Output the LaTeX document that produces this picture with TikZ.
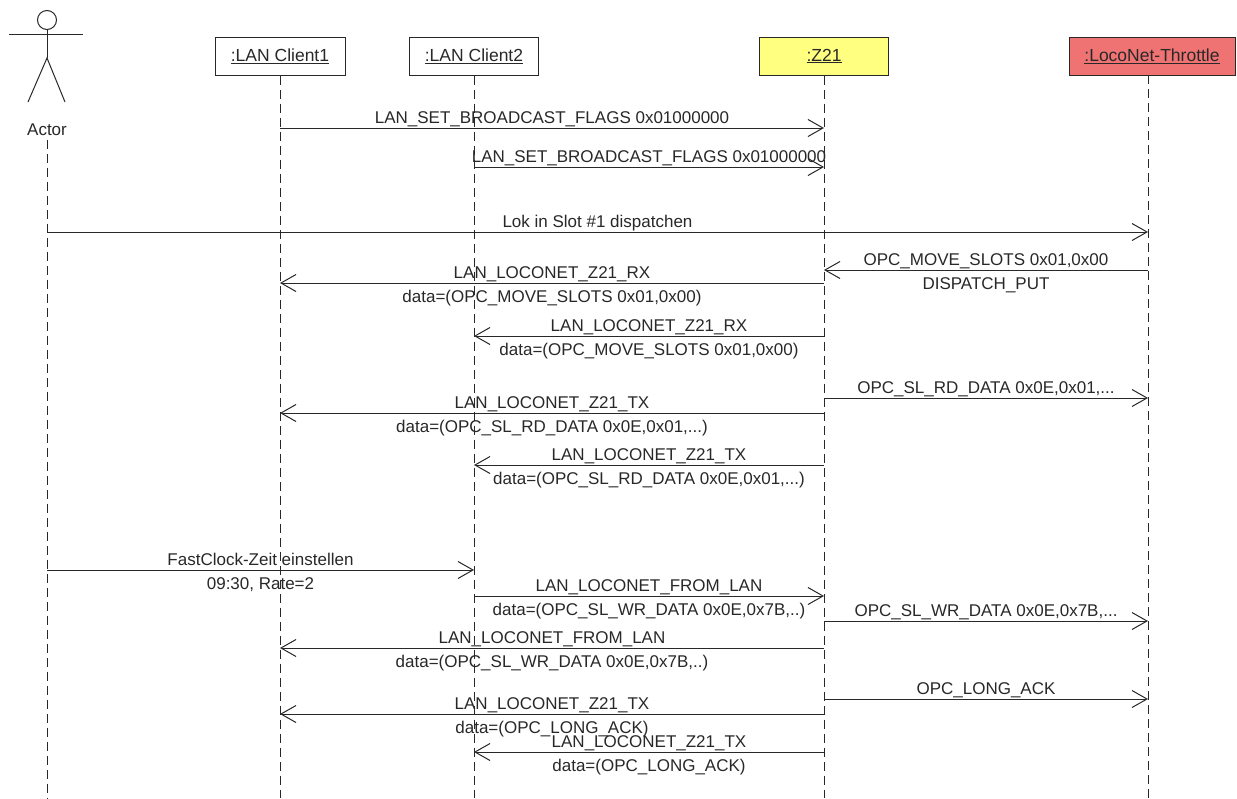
\documentclass[tikz,border=0pt]{standalone}
\usepackage{fontspec}
\setmainfont{Liberation Sans}
\usetikzlibrary{arrows.meta, positioning}
\definecolor{zyellow}{RGB}{255, 255, 128}
\definecolor{throttlered}{RGB}{240, 115, 115}
\definecolor{inkgray}{RGB}{40, 40, 40}

\begin{document}
\begin{tikzpicture}[x=1pt, y=-1pt,
  headbox/.style={draw=inkgray, line width=1pt, minimum height=38pt, font=\fontsize{17.5}{20}\selectfont, text=inkgray},
  life/.style={draw=inkgray, line width=1pt, dash pattern=on 9pt off 5pt},
  msg/.style={draw=inkgray, line width=1pt, -{Straight Barb[length=15pt, width=17pt, line width=1pt]}},
  lbl/.style={font=\fontsize{17}{20}\selectfont, text=inkgray, inner sep=1pt, text height=12pt, text depth=3pt},
  tagup/.style={lbl, above=0pt},
  tagdn/.style={lbl, below=6pt}]
  \useasboundingbox (0,0) rectangle (1237,798);

  % ===== Actor =====
  \draw[inkgray, line width=1pt] (47,20) circle[radius=9.5pt];
  \draw[inkgray, line width=1pt] (9,34) -- (83,34);
  \draw[inkgray, line width=1pt] (47,29.5) -- (47,58);
  \draw[inkgray, line width=1pt] (28,102) -- (47,58) -- (65,102);
  \node[lbl] (actor) at (47,131) {Actor};

  % ===== Heads =====
  \node[headbox, minimum width=130pt] (cl1) at (280,56) {\underline{:LAN Client1}};
  \node[headbox, minimum width=129pt] (cl2) at (474,56) {\underline{:LAN Client2}};
  \node[headbox, fill=zyellow, minimum width=129pt] (z21) at (824,56) {\underline{:Z21}};
  \node[headbox, fill=throttlered, minimum width=166pt] (thr) at (1152,56) {\underline{:LocoNet-Throttle}};
  \coordinate (thrl) at (1148,75);

  % Lifelines
  \draw[life] (actor.south) -- (actor.south |- 0,798);
  \draw[life] (cl1.south) -- (cl1.south |- 0,798);
  \draw[life] (cl2.south) -- (cl2.south |- 0,798);
  \draw[life] (z21.south) -- (z21.south |- 0,798);
  \draw[life] (thrl) -- (thrl |- 0,798);

  % ===== Broadcast flags =====
  \draw[msg] (cl1 |- 0,128) -- node[tagup] {LAN\_SET\_BROADCAST\_FLAGS 0x01000000} (z21 |- 0,128);
  \draw[msg] (cl2 |- 0,167) -- node[tagup] {LAN\_SET\_BROADCAST\_FLAGS 0x01000000} (z21 |- 0,167);

  % ===== Dispatch =====
  \draw[msg] (actor |- 0,232) -- node[tagup] {Lok in Slot \#1 dispatchen} (thrl |- 0,232);
  \draw[msg] (thrl |- 0,270) -- node[tagup] {OPC\_MOVE\_SLOTS 0x01,0x00} node[tagdn] {DISPATCH\_PUT} (z21 |- 0,270);
  \draw[msg] (z21 |- 0,283) -- node[tagup] {LAN\_LOCONET\_Z21\_RX} node[tagdn] {data=(OPC\_MOVE\_SLOTS 0x01,0x00)} (cl1 |- 0,283);
  \draw[msg] (z21 |- 0,336) -- node[tagup] {LAN\_LOCONET\_Z21\_RX} node[tagdn] {data=(OPC\_MOVE\_SLOTS 0x01,0x00)} (cl2 |- 0,336);

  % ===== Slot read =====
  \draw[msg] (z21 |- 0,398) -- node[tagup] {OPC\_SL\_RD\_DATA 0x0E,0x01,...} (thrl |- 0,398);
  \draw[msg] (z21 |- 0,413) -- node[tagup] {LAN\_LOCONET\_Z21\_TX} node[tagdn] {data=(OPC\_SL\_RD\_DATA 0x0E,0x01,...)} (cl1 |- 0,413);
  \draw[msg] (z21 |- 0,465) -- node[tagup] {LAN\_LOCONET\_Z21\_TX} node[tagdn] {data=(OPC\_SL\_RD\_DATA 0x0E,0x01,...)} (cl2 |- 0,465);

  % ===== FastClock =====
  \draw[msg] (actor |- 0,570) -- node[tagup] {FastClock-Zeit einstellen} node[tagdn] {09:30, Rate=2} (cl2 |- 0,570);
  \draw[msg] (cl2 |- 0,596) -- node[tagup] {LAN\_LOCONET\_FROM\_LAN} node[tagdn] {data=(OPC\_SL\_WR\_DATA 0x0E,0x7B,..)} (z21 |- 0,596);
  \draw[msg] (z21 |- 0,621) -- node[tagup] {OPC\_SL\_WR\_DATA 0x0E,0x7B,...} (thrl |- 0,621);
  \draw[msg] (z21 |- 0,648) -- node[tagup] {LAN\_LOCONET\_FROM\_LAN} node[tagdn] {data=(OPC\_SL\_WR\_DATA 0x0E,0x7B,..)} (cl1 |- 0,648);

  % ===== Long ack =====
  \draw[msg] (z21 |- 0,699) -- node[tagup] {OPC\_LONG\_ACK} (thrl |- 0,699);
  \draw[msg] (z21 |- 0,714) -- node[tagup] {LAN\_LOCONET\_Z21\_TX} node[tagdn] {data=(OPC\_LONG\_ACK)} (cl1 |- 0,714);
  \draw[msg] (z21 |- 0,752) -- node[tagup] {LAN\_LOCONET\_Z21\_TX} node[tagdn] {data=(OPC\_LONG\_ACK)} (cl2 |- 0,752);
\end{tikzpicture}
\end{document}
